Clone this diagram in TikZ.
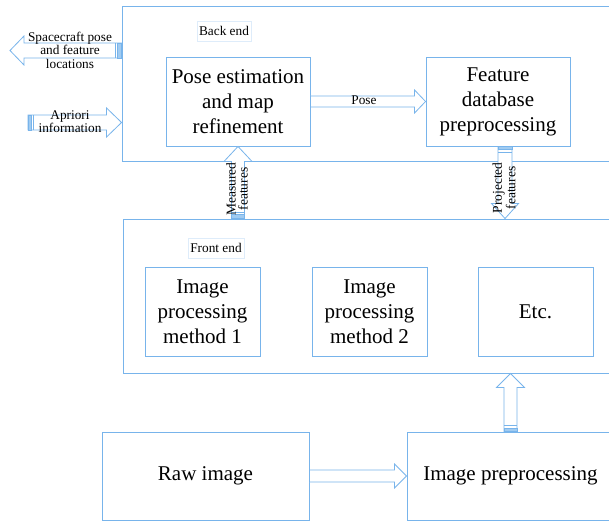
\documentclass[tikz,border=0pt]{standalone}
\usepackage{fontspec}
\setmainfont{Liberation Serif}
\usetikzlibrary{calc}
\definecolor{lb}{RGB}{120,180,235}
\definecolor{faint}{RGB}{222,236,250}
\newcommand\BigTxt{\fontsize{21}{25}\selectfont}
\newcommand\SmTxt{\fontsize{13.3}{13}\selectfont}
% horizontal block arrow: tail, tip, half body, half head, head length (signed offset from tip)
\newcommand\BArrH[5]{\draw[barrow] ($(#1)+(0,#3)$) -- ($(#2)+(#5,#3)$) -- ($(#2)+(#5,#4)$) -- (#2) -- ($(#2)+(#5,-#4)$) -- ($(#2)+(#5,-#3)$) -- ($(#1)+(0,-#3)$) -- cycle;}
\newcommand\BArrV[5]{\draw[barrow] ($(#1)+(#3,0)$) -- ($(#2)+(#3,#5)$) -- ($(#2)+(#4,#5)$) -- (#2) -- ($(#2)+(-#4,#5)$) -- ($(#2)+(-#3,#5)$) -- ($(#1)+(-#3,0)$) -- cycle;}
\begin{document}
\begin{tikzpicture}[x=1pt,y=-1pt,
  box/.style={draw=lb,line width=0.9pt,inner sep=0pt,align=center,font=\BigTxt},
  lbl/.style={draw=faint,line width=0.6pt,inner sep=0pt,font=\SmTxt},
  txt/.style={inner sep=0pt,align=center,font=\SmTxt},
  barrow/.style={draw=lb,line width=0.8pt,fill=white,line join=miter},
  stripe/.style={fill=lb!70,draw=lb,line width=0.5pt},
  sline/.style={draw=lb,line width=0.8pt}]
\clip (0,0) rectangle (609,521);
\fill[white] (0,0) rectangle (609,521);
% containers
\node[box,minimum width=518pt,minimum height=155pt] (back) at (381,83.5) {};
\node[box,minimum width=497pt,minimum height=154pt] (front) at (371.5,296) {};
% back end
\node[lbl,minimum width=54pt,minimum height=20pt] (belbl) at (224,31) {Back end};
\node[box,minimum width=144pt,minimum height=89pt] (pe) at (238,101.5) {Pose estimation\\and map\\refinement};
\node[box,minimum width=144pt,minimum height=89pt] (fd) at (498,101.5) {Feature\\database\\preprocessing};
% front end
\node[lbl,minimum width=56pt,minimum height=20pt] (felbl) at (216,248) {Front end};
\node[box,minimum width=115pt,minimum height=89pt] (m1) at (202.5,311.5) {Image\\processing\\method 1};
\node[box,minimum width=115pt,minimum height=89pt] (m2) at (369.5,311.5) {Image\\processing\\method 2};
\node[box,minimum width=115pt,minimum height=89pt] (etc) at (535.5,311.5) {Etc.};
% bottom
\node[box,minimum width=207pt,minimum height=88pt] (raw) at (205.5,476) {Raw image};
\node[box,minimum width=207pt,minimum height=88pt] (pre) at (510.5,476) {Image preprocessing};
% coordinates for arrows
\coordinate (scEnd) at (10,50.5);
\coordinate (scTail) at (back.west |- scEnd);
\coordinate (apTail) at (28,122.5);
\coordinate (apTip) at (back.west |- apTail);
\coordinate (msTail) at (pe.south |- front.north);
\coordinate (pjTail) at ($(fd.south)+(7,0)$);
\coordinate (pjTip) at (pjTail |- front.north);
\coordinate (upTip) at (pre.north |- front.south);
% block arrows
\BArrH{pe.east}{fd.west}{5.5}{11.5}{-11}
\BArrH{scTail}{scEnd}{7.5}{14.5}{14}
\BArrH{apTail}{apTip}{7.5}{14.5}{-15}
\BArrH{raw.east}{pre.west}{6}{12}{-12}
\BArrV{msTail}{pe.south}{6.5}{14}{15}
\BArrV{pjTail}{pjTip}{7}{13.5}{-15}
\BArrV{pre.north}{upTip}{6.5}{14}{14}
% tail stripes
\path[stripe] ($(scTail)+(-4,-7.5)$) rectangle ($(scTail)+(0,7.5)$);
\path[sline] ($(scTail)+(-6,-7.5)$) -- ($(scTail)+(-6,7.5)$);
\path[stripe] ($(apTail)+(0,-7.5)$) rectangle ($(apTail)+(3,7.5)$);
\path[sline] ($(apTail)+(5,-7.5)$) -- ($(apTail)+(5,7.5)$);
\path[stripe] ($(msTail)+(-6.5,-4)$) rectangle ($(msTail)+(6.5,0)$);
\path[sline] ($(msTail)+(-6.5,-6)$) -- ($(msTail)+(6.5,-6)$);
\path[stripe] ($(pjTail)+(-7,0)$) rectangle ($(pjTail)+(7,3)$);
\path[sline] ($(pjTail)+(-7,6)$) -- ($(pjTail)+(7,6)$);
\path[stripe] ($(pre.north)+(-6.5,-3)$) rectangle ($(pre.north)+(6.5,0)$);
\path[sline] ($(pre.north)+(-6.5,-6)$) -- ($(pre.north)+(6.5,-6)$);
% arrow labels
\node[txt,font=\fontsize{13.3}{13.5}\selectfont] (sclbl) at (70,50) {Spacecraft pose\\and feature\\locations};
\node[txt] (aplbl) at (70,122) {Apriori\\information};
\node[txt] (poselbl) at (364,100) {Pose};
\node[txt,rotate=90,font=\fontsize{13.5}{12}\selectfont] (mslbl) at (237,189) {Measured\\features};
\node[txt,rotate=90,font=\fontsize{13.5}{12}\selectfont] (pjlbl) at (504,188) {Projected\\features};
\end{tikzpicture}
\end{document}
